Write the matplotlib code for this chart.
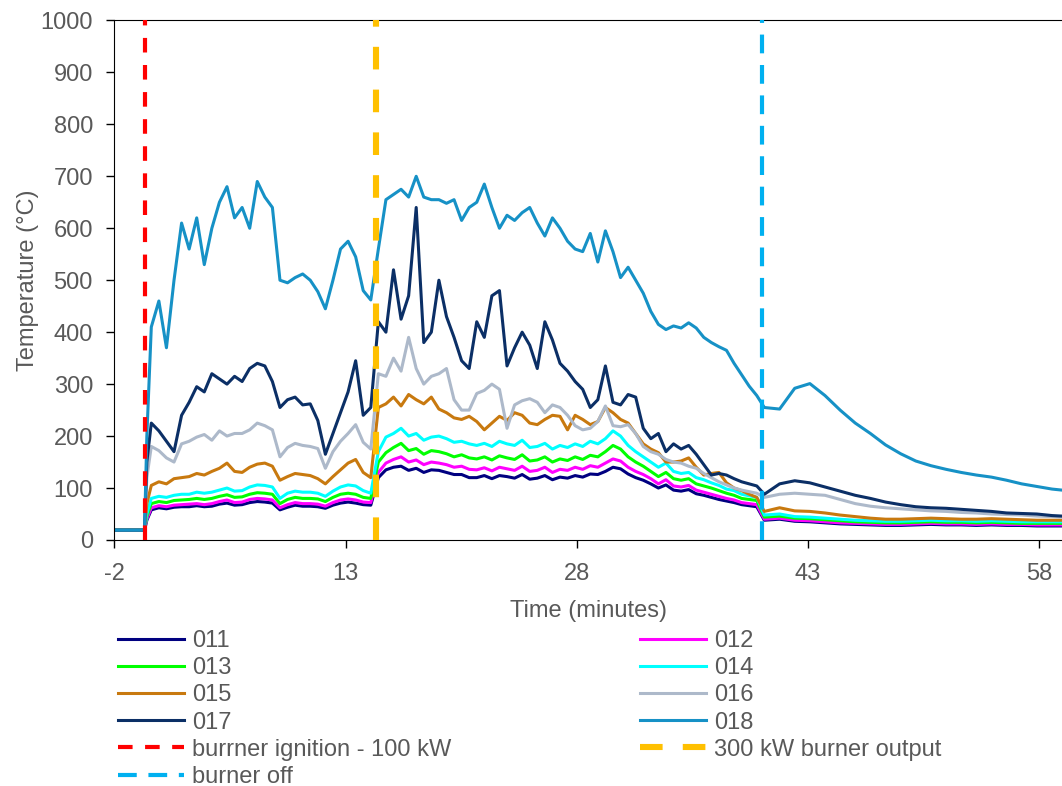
import numpy as np
from matplotlib import pyplot as plt
from matplotlib.lines import Line2D

plt.rcParams['font.family'] = ['Liberation Sans', 'DejaVu Sans']
plt.rcParams['axes.unicode_minus'] = False

# sample times (minutes): before ignition, fire period, cooling period
minutes = np.concatenate([[-2, -1.5, -1, -0.5, -0.05, 0.1],
                          np.linspace(0.39, 40.18, 82),
                          np.linspace(41.17, 58.85, 19), [59.5]])

s011 = [19, 19, 19, 19, 19, 38,
        58, 62, 60, 63, 64, 64, 66, 64, 65, 69,
        71, 67, 68, 72, 74, 73, 71, 58, 63, 67,
        65, 65, 64, 61, 67, 71, 73, 71, 68, 67,
        120, 135, 140, 142, 134, 138, 130, 135, 134, 130,
        126, 126, 120, 120, 124, 118, 124, 122, 119, 126,
        117, 119, 124, 116, 121, 119, 124, 121, 127, 126,
        132, 140, 137, 127, 120, 115, 108, 100, 106, 96,
        94, 97, 89, 86, 82, 78, 75, 72, 68, 66,
        64, 38,
        40, 36, 35, 33, 31, 30, 29, 28, 28, 29, 30, 29, 29, 28, 29, 28, 28, 27, 27, 27]
s012 = [19, 19, 19, 19, 19, 40,
        62, 66, 64, 67, 68, 69, 70, 68, 70, 74,
        77, 72, 73, 78, 80, 79, 77, 62, 68, 72,
        70, 70, 69, 65, 72, 77, 79, 77, 73, 72,
        130, 148, 155, 160, 150, 154, 145, 150, 148, 145,
        140, 142, 136, 135, 139, 133, 140, 137, 134, 142,
        132, 134, 140, 130, 136, 134, 140, 136, 143, 140,
        148, 156, 152, 140, 132, 126, 118, 108, 116, 104,
        102, 105, 96, 92, 88, 84, 80, 77, 72, 70,
        68, 40,
        42, 38, 37, 35, 33, 32, 31, 30, 30, 31, 32, 31, 31, 30, 31, 30, 30, 29, 29, 29]
s013 = [19, 19, 19, 19, 19, 45,
        70, 74, 72, 76, 77, 78, 80, 78, 80, 84,
        87, 82, 83, 88, 91, 90, 88, 70, 78, 82,
        80, 80, 79, 74, 82, 88, 90, 88, 82, 80,
        150, 168, 178, 186, 172, 176, 165, 172, 170, 166,
        160, 164, 158, 156, 160, 154, 162, 158, 155, 164,
        152, 154, 160, 150, 156, 153, 160, 155, 163, 160,
        170, 182, 175, 160, 150, 142, 132, 122, 130, 118,
        115, 118, 108, 104, 100, 95, 90, 86, 80, 78,
        76, 44,
        46, 42, 41, 39, 37, 35, 34, 33, 33, 34, 35, 34, 34, 33, 34, 33, 32, 32, 32, 32]
s014 = [19, 19, 19, 19, 19, 50,
        80, 84, 82, 86, 88, 88, 92, 90, 92, 96,
        100, 94, 95, 102, 106, 105, 102, 80, 90, 94,
        92, 92, 90, 84, 94, 102, 106, 104, 95, 90,
        170, 198, 205, 215, 200, 205, 192, 198, 200, 195,
        188, 190, 185, 182, 186, 180, 190, 185, 182, 192,
        178, 180, 186, 175, 182, 178, 185, 180, 190, 185,
        195, 210, 200, 182, 170, 160, 150, 140, 148, 132,
        128, 130, 120, 116, 110, 105, 98, 95, 88, 85,
        82, 48,
        50, 45, 44, 42, 40, 38, 37, 36, 36, 37, 38, 37, 37, 36, 37, 36, 35, 35, 35, 35]
s015 = [19, 19, 19, 19, 19, 70,
        105, 112, 108, 118, 120, 122, 128, 125, 132, 138,
        148, 132, 130, 140, 146, 148, 142, 115, 122, 128,
        126, 124, 118, 108, 122, 135, 148, 155, 130, 120,
        255, 262, 275, 258, 280, 270, 262, 275, 252, 245,
        235, 232, 238, 228, 212, 225, 238, 230, 245, 240,
        225, 222, 232, 240, 238, 212, 240, 232, 222, 228,
        255, 245, 232, 225, 205, 185, 175, 168, 150, 150,
        152, 158, 140, 125, 128, 130, 110, 100, 95, 88,
        82, 55,
        62, 56, 55, 52, 48, 45, 42, 40, 40, 41, 42, 41, 40, 40, 41, 40, 39, 38, 38, 38]
s016 = [19, 19, 19, 19, 19, 120,
        180, 172, 158, 150, 185, 190, 198, 203, 192, 210,
        200, 205, 205, 212, 225, 220, 212, 160, 178, 186,
        182, 180, 176, 138, 170, 190, 205, 222, 188, 175,
        320, 315, 350, 325, 390, 330, 300, 315, 320, 330,
        270, 250, 250, 282, 288, 300, 290, 215, 260, 268,
        272, 265, 245, 260, 255, 240, 220, 212, 215, 228,
        258, 220, 218, 222, 205, 180, 170, 165, 155, 150,
        148, 142, 138, 128, 120, 112, 106, 100, 96, 93,
        90, 82,
        88, 90, 88, 86, 78, 70, 65, 62, 60, 58, 56, 55, 53, 52, 50, 49, 48, 46, 45, 44]
s017 = [19, 19, 19, 19, 19, 150,
        225, 210, 190, 170, 240, 265, 295, 285, 320, 310,
        300, 315, 305, 330, 340, 335, 305, 255, 270, 275,
        260, 262, 230, 165, 205, 245, 285, 345, 240, 255,
        420, 400, 520, 425, 470, 640, 380, 400, 500, 430,
        390, 345, 330, 420, 390, 470, 480, 335, 370, 400,
        375, 330, 420, 385, 340, 325, 305, 290, 255, 270,
        335, 265, 260, 280, 275, 215, 195, 205, 170, 185,
        175, 182, 165, 145, 125, 128, 125, 118, 112, 108,
        104, 88,
        108, 114, 110, 102, 94, 86, 80, 73, 68, 64, 62, 61, 59, 57, 55, 52, 51, 50, 47, 46]
s018 = [19, 19, 19, 19, 19, 200,
        410, 460, 370, 500, 610, 560, 620, 530, 600, 650,
        680, 620, 640, 600, 690, 660, 640, 500, 495, 505,
        512, 500, 478, 445, 500, 560, 575, 545, 480, 462,
        560, 655, 665, 675, 660, 700, 660, 655, 655, 648,
        655, 615, 640, 650, 685, 640, 600, 625, 615, 630,
        640, 610, 585, 620, 600, 575, 560, 555, 590, 535,
        595, 555, 505, 525, 500, 475, 440, 415, 405, 412,
        408, 418, 408, 390, 380, 372, 365, 340, 318, 296,
        278, 255,
        252, 292, 301, 278, 250, 225, 205, 183, 166, 152, 143, 136, 130, 125, 121, 115, 108, 103, 98, 96]

names = ['011', '012', '013', '014', '015', '016', '017', '018']
series = [s011, s012, s013, s014, s015, s016, s017, s018]
colors = ['#000080', '#FF00FF', '#00FF00', '#00FFFF', '#C8790F', '#ADB9CA', '#0B2F66', '#1691C6']

events = [0, 15, 40]
event_names = ['burrner ignition - 100 kW', '300 kW burner output', 'burner off']
event_colors = ['#FF0000', '#FFC000', '#00B0F0']
event_widths = [3.0, 4.4, 3.0]
event_dashes = [(3.5, 3.0), (3.7, 3.3), (4.5, 2.8)]

text_color = '#595959'
fs = 17

fig = plt.figure(figsize=(10.62, 7.86), dpi=100)
ax = fig.add_axes([0.1078, 0.3130, 0.8922, 0.661])

for name, vals, c in zip(names, series, colors):
    ax.plot(minutes, vals, color=c, lw=2.2, label=name)

for x, c, w, d in zip(events, event_colors, event_widths, event_dashes):
    ax.axvline(x, color=c, lw=w, dashes=d, zorder=5)

ax.set_xlim(-2, 59.5)
ax.set_ylim(0, 1000)
ax.set_xticks([-2, 13, 28, 43, 58])
ax.set_yticks(range(0, 1001, 100))
ax.tick_params(axis='both', direction='out', length=5.5, width=1, colors='black',
               labelcolor=text_color, labelsize=fs)
ax.tick_params(axis='y', pad=10)
ax.tick_params(axis='x', pad=11)
for side in ['left', 'bottom', 'top']:
    ax.spines[side].set_color('black')
ax.spines['right'].set_visible(False)

ax.set_xlabel('Time (minutes)', fontsize=fs, color=text_color, labelpad=11)
ax.set_ylabel('Temperature (°C)', fontsize=fs, color=text_color, labelpad=1)

# legend: row-major order in two columns
line_h = {n: Line2D([], [], color=c, lw=2.2) for n, c in zip(names, colors)}
ev_h = [Line2D([], [], color=c, lw=w, dashes=d) for c, w, d in zip(event_colors, event_widths, event_dashes)]
handles = [line_h['011'], line_h['013'], line_h['015'], line_h['017'], ev_h[0], ev_h[2],
           line_h['012'], line_h['014'], line_h['016'], line_h['018'], ev_h[1]]
labels = ['011', '013', '015', '017', event_names[0], event_names[2],
          '012', '014', '016', '018', event_names[1]]
leg = fig.legend(handles, labels, ncol=2, loc='upper left', bbox_to_anchor=(0.111, 0.1985),
                 frameon=False, fontsize=fs, borderpad=0, borderaxespad=0,
                 handlelength=2.8, handletextpad=0.33, columnspacing=8.0, labelspacing=0.22)
for t in leg.get_texts():
    t.set_color(text_color)

fig.savefig('out.png', dpi=100)
